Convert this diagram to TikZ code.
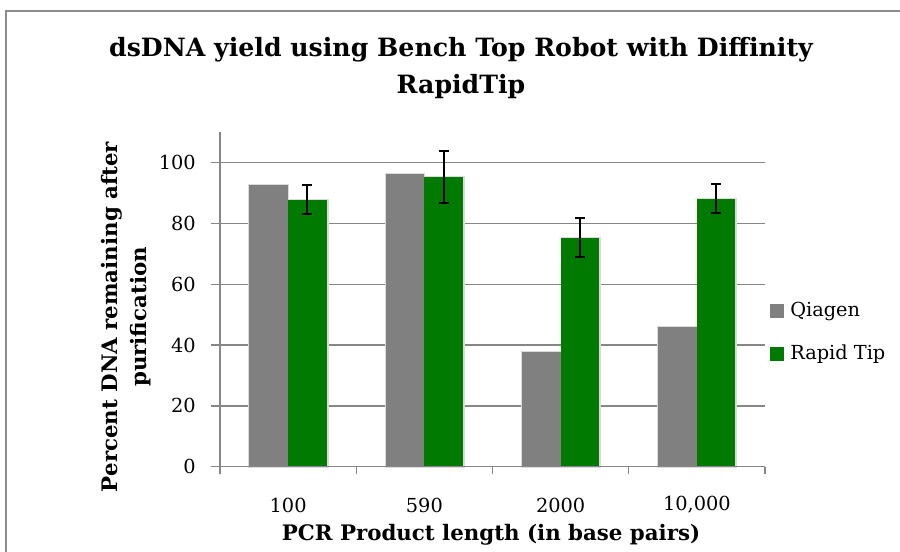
\documentclass[tikz,border=0pt]{standalone}
\usepackage{fontspec}
\setmainfont{DejaVu Serif}
\definecolor{framegray}{RGB}{140,140,140}
\definecolor{gridgray}{RGB}{134,134,134}
\definecolor{qiagen}{RGB}{128,128,128}
\definecolor{rapid}{RGB}{0,122,0}
\tikzset{
  gridline/.style={draw=gridgray,line width=1.1pt},
  qbar/.style={fill=qiagen},
  rbar/.style={fill=rapid},
  shadowbar/.style={fill=black!14},
  errbar/.style={draw=black,line width=1.5pt},
  ticklabel/.style={font=\fontsize{14.5}{17}\selectfont,inner sep=0pt},
  axislabel/.style={font=\fontsize{16}{22}\selectfont\bfseries,inner sep=0pt},
}
\begin{document}
\begin{tikzpicture}[x=0.75pt,y=-0.75pt]
\useasboundingbox (0,0) rectangle (900,552);
\fill[white] (0,0) rectangle (900,552);
% outer chart frame
\draw[framegray,line width=1.1pt] (6,570) -- (6,11) -- (910,11);
% title
\node[font=\fontsize{18.9}{28}\selectfont\bfseries,align=center,inner sep=0pt] (title) at (461,68)
  {dsDNA yield using Bench Top Robot with Diffinity\\RapidTip};
% gridlines
\foreach \v in {20,40,60,80,100}{
  \draw[gridline] (211,{466.7-3.04*\v}) -- (765,{466.7-3.04*\v});
  \node[ticklabel,anchor=east] (yl\v) at (196,{466.7-3.04*\v}) {\v};
}
\node[ticklabel,anchor=east] (yl0) at (196,466.7) {0};
% bars
\foreach \i/\g/\r/\lo/\hi/\lab in {1/92.6/87.7/83.0/92.6/100,2/96.4/95.2/86.8/104.0/590,3/37.6/75.3/69.0/81.7/2000,4/46.1/88.0/83.5/93.0/{10,000}}{
  \pgfmathsetmacro{\c}{220+136.25*(\i-0.5)}
  \fill[shadowbar] (\c-39.7,468) rectangle (\c+1,{466.7-3.04*\g-1});
  \fill[shadowbar] (\c,468) rectangle (\c+40.5,{466.7-3.04*\r-1});
  \fill[qbar] (\c-38.7,466.7) rectangle (\c,{466.7-3.04*\g});
  \fill[rbar] (\c,466.7) rectangle (\c+38.5,{466.7-3.04*\r});
  \draw[errbar] (\c+19.25,{466.7-3.04*\lo}) -- (\c+19.25,{466.7-3.04*\hi});
  \draw[errbar] (\c+14.25,{466.7-3.04*\lo}) -- (\c+24.25,{466.7-3.04*\lo});
  \draw[errbar] (\c+14.25,{466.7-3.04*\hi}) -- (\c+24.25,{466.7-3.04*\hi});
  \node[ticklabel] (xl\i) at (\c,505) {\lab};
}
% axes
\draw[gridline] (211,466.7) -- (765,466.7);
\draw[gridline] (220,132) -- (220,474);
\foreach \x in {356.25,492.5,628.75,765}{
  \draw[gridline] (\x,466.7) -- (\x,474);
}
% axis titles
\node[axislabel,anchor=base] (xtitle) at (491,540) {PCR Product length (in base pairs)};
\node[axislabel,align=center,rotate=90] (ytitle) at (126,317) {Percent DNA remaining after\\purification};
% legend
\fill[qiagen] (770,304) rectangle (784,318);
\fill[rapid] (770,347) rectangle (784,361);
\node[ticklabel,anchor=west] (lq) at (790,311) {Qiagen};
\node[ticklabel,anchor=west] (lr) at (790,354) {Rapid Tip};
\end{tikzpicture}
\end{document}
